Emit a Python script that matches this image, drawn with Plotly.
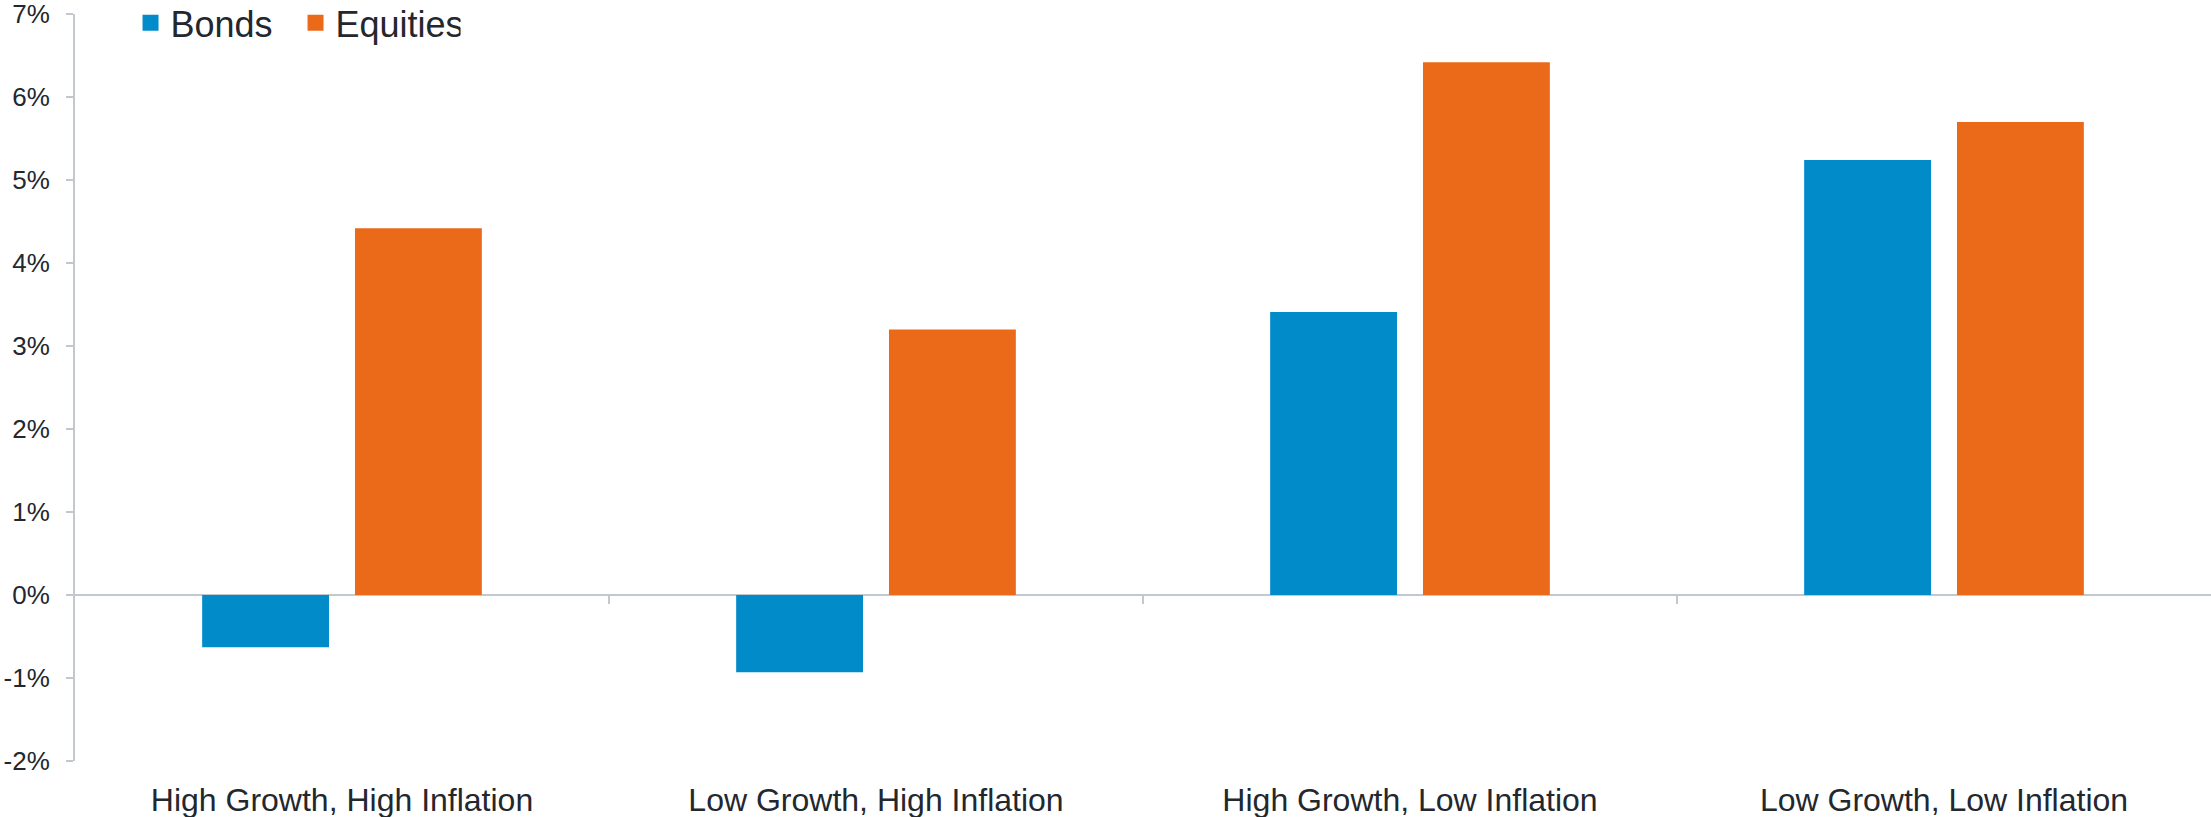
import plotly.graph_objects as go

categories = ["High Growth, High Inflation", "Low Growth, High Inflation",
              "High Growth, Low Inflation", "Low Growth, Low Inflation"]
bonds = [-0.63, -0.93, 3.41, 5.24]
equities = [4.42, 3.20, 6.42, 5.70]
y_ticks = [-2, -1, 0, 1, 2, 3, 4, 5, 6, 7]
y_tick_labels = ["-2%", "-1%", "0%", "1%", "2%", "3%", "4%", "5%", "6%", "7%"]

BLUE = "#028BC9"
ORANGE = "#EA6A1A"
GRID = "#C3C7CE"
TEXT = "#23272E"
FONT = "Liberation Sans, Arial, sans-serif"

fig = go.Figure()
fig.add_trace(go.Bar(name="Bonds", x=categories, y=bonds, showlegend=False,
                     marker=dict(color=BLUE, line=dict(width=0))))
fig.add_trace(go.Bar(name="Equities", x=categories, y=equities, showlegend=False,
                     marker=dict(color=ORANGE, line=dict(width=0))))
# legend entries with larger square swatches
fig.add_trace(go.Scatter(name="Bonds", x=[None], y=[None], mode="markers",
                         marker=dict(symbol="square", size=19, color=BLUE)))
fig.add_trace(go.Scatter(name="Equities", x=[None], y=[None], mode="markers",
                         marker=dict(symbol="square", size=19, color=ORANGE)))

# category boundary ticks on the zero line
for i in range(len(categories) - 1):
    fig.add_shape(type="line", xref="x", yref="y", x0=i + 0.5, x1=i + 0.5,
                  y0=0, y1=-9, ysizemode="pixel", yanchor=0,
                  line=dict(color=GRID, width=2), layer="below")

fig.update_layout(
    width=2211, height=817,
    margin=dict(l=75, r=0, t=14, b=56, autoexpand=False),
    paper_bgcolor="white", plot_bgcolor="white",
    barmode="group", bargap=0.4276, bargroupgap=0.17,
    font=dict(family=FONT, color=TEXT),
    showlegend=True,
    legend=dict(orientation="h", x=0.026, y=0.988, xanchor="left", yanchor="middle",
                font=dict(size=36, color=TEXT, family=FONT), bgcolor="rgba(0,0,0,0)",
                itemwidth=30, entrywidth=120, traceorder="normal", itemsizing="trace"),
)
fig.update_xaxes(
    showline=False, showgrid=False, zeroline=False, ticks="",
    tickfont=dict(size=32, color=TEXT, family=FONT),
    ticklabelstandoff=17, ticklabeloverflow="allow",
)
fig.update_yaxes(
    range=[-2, 7], tickvals=y_ticks, ticktext=y_tick_labels,
    showgrid=False, showline=True, linecolor=GRID, linewidth=2,
    ticks="outside", ticklen=7, tickcolor=GRID, tickwidth=2,
    zeroline=True, zerolinecolor=GRID, zerolinewidth=2,
    tickfont=dict(size=26, color=TEXT, family=FONT),
    ticklabelstandoff=11, ticklabeloverflow="allow",
)

fig.write_html("out.html")
